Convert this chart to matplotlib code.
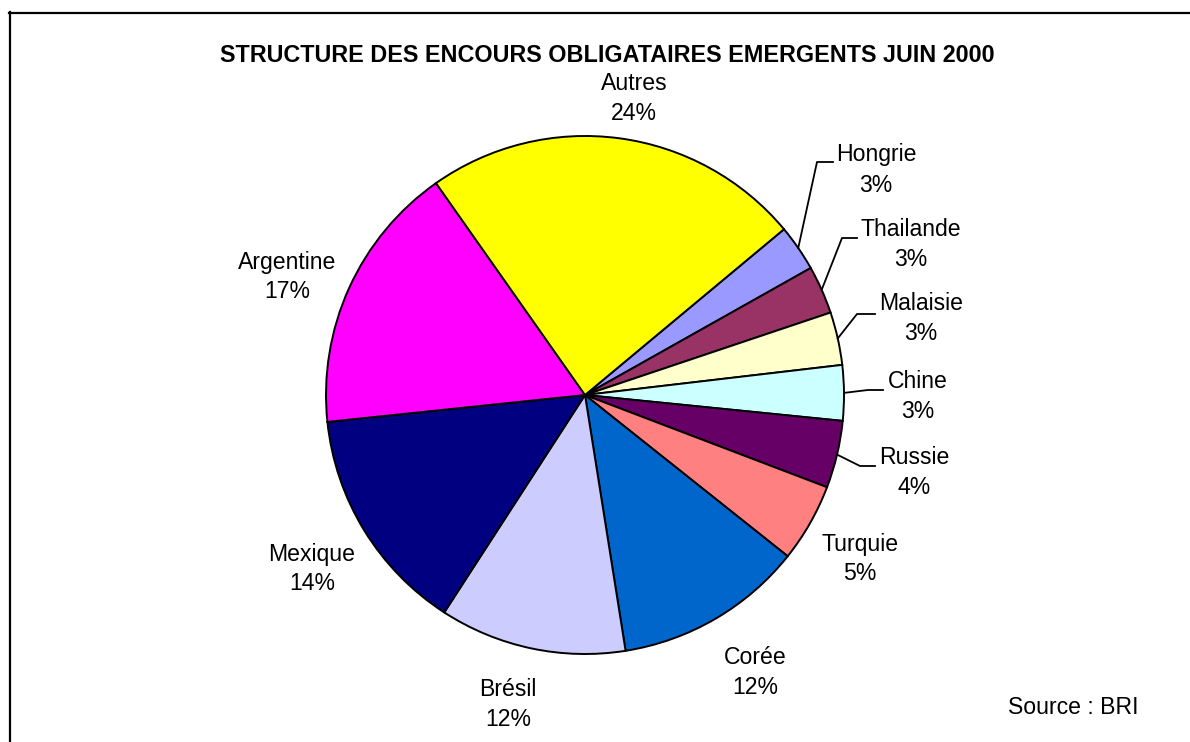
import matplotlib
matplotlib.use("Agg")
import matplotlib.pyplot as plt
import numpy as np

plt.rcParams['font.family'] = ['Liberation Sans', 'DejaVu Sans']

# data (share of outstanding bonds, %)
countries = ["Hongrie", "Thailande", "Malaisie", "Chine", "Russie", "Turquie",
             "Corée", "Brésil", "Mexique", "Argentine", "Autres"]
shares = [2.9, 3.0, 3.3, 3.45, 4.2, 4.9, 11.8, 11.65, 14.2, 16.9, 23.7]
colors = ["#9999FF", "#993366", "#FFFFCC", "#CCFFFF", "#660066", "#FF8080",
          "#0066CC", "#CCCCFF", "#000080", "#FF00FF", "#FFFF00"]

title = "STRUCTURE DES ENCOURS OBLIGATAIRES EMERGENTS JUIN 2000"
source = "Source : BRI"

W, H = 1190, 742
cx, cy, r = 585, 395, 259  # pie centre / radius in pixels

# label centres (pixels, first line); percentage goes 30 px below
label_xy = {
    "Autres": (634, 83), "Hongrie": (876, 155), "Thailande": (911, 229),
    "Malaisie": (921, 304), "Chine": (918, 382), "Russie": (914, 458),
    "Turquie": (860, 544), "Corée": (755, 658), "Brésil": (508, 689),
    "Mexique": (312, 554), "Argentine": (287, 262),
}
# leader lines: elbow point and end of the horizontal part
leaders = {
    "Hongrie": ((817, 162), 833), "Thailande": ((842, 238), 857),
    "Malaisie": ((857, 314), 875), "Chine": ((868, 390), 883),
    "Russie": ((860, 466), 875),
}

fig = plt.figure(figsize=(W / 100, H / 100), dpi=100)

ax = fig.add_axes([(cx - r) / W, (H - cy - r) / H, 2 * r / W, 2 * r / H])
wedges, _ = ax.pie(shares, colors=colors, startangle=90 - 50.2, counterclock=False,
                   wedgeprops=dict(edgecolor="black", linewidth=1.4))
for w in wedges:
    w.set_clip_on(False)
ax.set_xlim(-1, 1)
ax.set_ylim(-1, 1)

# overlay in pixel coordinates for texts and lines
ov = fig.add_axes([0, 0, 1, 1], zorder=5)
ov.set_xlim(0, W)
ov.set_ylim(H, 0)
ov.axis("off")

fs = 16.6
for name, s, w in zip(countries, shares, wedges):
    x, y = label_xy[name]
    ov.text(x, y, name, ha="center", va="center", fontsize=fs)
    ov.text(x, y + 30, "{}%".format(int(round(s))), ha="center", va="center", fontsize=fs)
    if name in leaders:
        t = np.radians((w.theta1 + w.theta2) / 2)
        x0 = cx + r * np.cos(t)
        y0 = cy - r * np.sin(t)
        (ex, ey), x1 = leaders[name]
        ov.plot([x0, ex, x1], [y0, ey, ey], color="black", lw=1.3)

ov.text(607, 56, title, ha="center", va="center", fontsize=16.8, fontweight="bold")
ov.text(1073, 708, source, ha="center", va="center", fontsize=fs)

# chart border (only top and left visible in the crop)
ov.plot([9, W + 5], [12.5, 12.5], color="black", lw=1.6, clip_on=False)
ov.plot([10, 10], [12, H + 5], color="black", lw=1.6, clip_on=False)

fig.savefig("out.png", dpi=100)
